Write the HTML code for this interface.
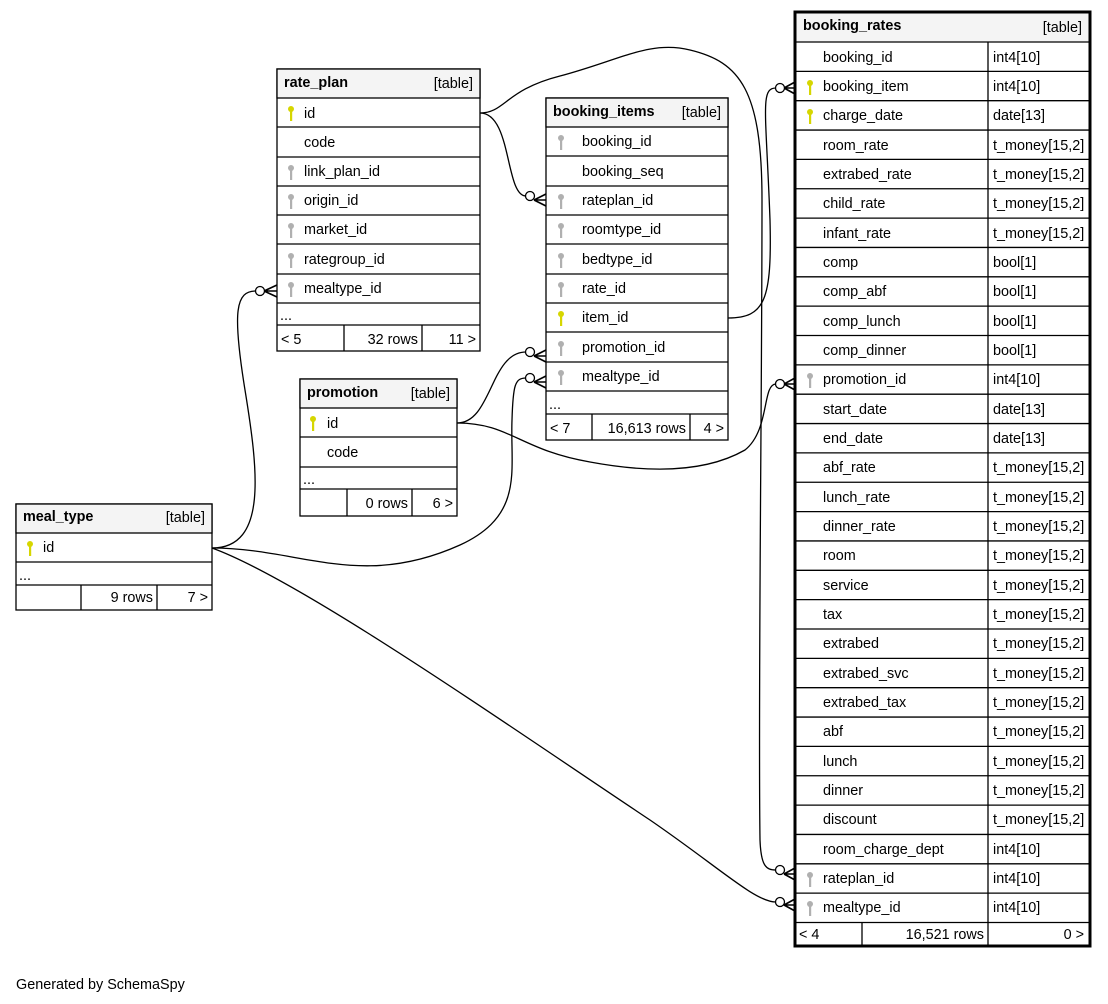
<!DOCTYPE html>
<html><head><meta charset="utf-8"><style>
html,body{margin:0;padding:0;background:#fff}
svg{display:block}
text{font-family:"Liberation Sans",Arial,sans-serif;font-size:14.4px;fill:#000}
.b{font-weight:bold}
.r{text-anchor:end}
.t{fill:#fff;stroke:#000;stroke-width:1.3}
.h{fill:#f4f4f4;stroke:#000;stroke-width:1.3}
.l{stroke:#000;stroke-width:1.3}
.c{fill:none;stroke:#000;stroke-width:1.3}
.f{fill:none;stroke:#000;stroke-width:1.6}
.o{fill:#fff;stroke:#000;stroke-width:1.3}
</style></head><body>
<svg width="1108" height="1004" viewBox="0 0 1108 1004" xmlns="http://www.w3.org/2000/svg">
<defs>
<g id="ky"><circle cx="0" cy="-4" r="3" fill="#d6d600"/><rect x="-1" y="-2" width="2.2" height="10" fill="#d6d600"/></g>
<g id="kg"><circle cx="0" cy="-4" r="3" fill="#b0b0b0"/><rect x="-1" y="-2" width="2.2" height="10" fill="#b0b0b0"/></g>
</defs>

<!-- connectors -->
<path class="c" d="M480,113 C512,113 505,196 526,196"/>
<path class="c" d="M480,113 C505,113 505,90 560,76 C620,60 650,40 690,50 C740,62 762,90 762,200 C762,400 758,700 760,840 C761,866 766,870 776,870"/>
<path class="c" d="M728,318 C765,318 772,300 770,220 C766,110 760,88 776,88"/>
<path class="c" d="M457,423 C492,423 490,352 526,352"/>
<path class="c" d="M457,423 C510,423 520,450 590,462 C660,475 710,470 745,450 C770,430 762,384 776,384"/>
<path class="c" d="M212,548 C268,548 258,470 245,390 C232,310 236,291 256,291"/>
<path class="c" d="M212,548 C300,548 360,590 460,545 C525,515 510,470 512,420 C513,385 515,378 526,378"/>
<path class="c" d="M212,548 C300,580 500,720 650,820 C720,868 755,902 776,902"/>
<!-- crow feet + circles -->
<g class="f">
<path d="M534,200 L546,194 M534,200 L546,200 M534,200 L546,206"/>
<path d="M534,356 L546,350 M534,356 L546,356 M534,356 L546,362"/>
<path d="M534,382 L546,376 M534,382 L546,382 M534,382 L546,388"/>
<path d="M264,291 L277,285 M264,291 L277,291 M264,291 L277,297"/>
<path d="M784,88 L795,82 M784,88 L795,88 M784,88 L795,94"/>
<path d="M784,384 L795,378 M784,384 L795,384 M784,384 L795,390"/>
<path d="M784,874 L795,868 M784,874 L795,874 M784,874 L795,880"/>
<path d="M784,905 L795,899 M784,905 L795,905 M784,905 L795,911"/>
</g>
<circle class="o" cx="530" cy="196" r="4.5"/>
<circle class="o" cx="530" cy="352" r="4.5"/>
<circle class="o" cx="530" cy="378" r="4.5"/>
<circle class="o" cx="260" cy="291" r="4.5"/>
<circle class="o" cx="780" cy="88" r="4.5"/>
<circle class="o" cx="780" cy="384" r="4.5"/>
<circle class="o" cx="780" cy="870" r="4.5"/>
<circle class="o" cx="780" cy="902" r="4.5"/>

<!-- rate_plan -->
<rect class="t" x="277" y="69" width="203" height="282"/>
<rect class="h" x="277" y="69" width="203" height="29"/>
<text class="b" x="284" y="87">rate_plan</text><text class="r" x="473" y="88">[table]</text>
<g class="l">
<line x1="277" y1="127" x2="480" y2="127"/><line x1="277" y1="157" x2="480" y2="157"/>
<line x1="277" y1="186" x2="480" y2="186"/><line x1="277" y1="215" x2="480" y2="215"/>
<line x1="277" y1="244" x2="480" y2="244"/><line x1="277" y1="274" x2="480" y2="274"/>
<line x1="277" y1="303" x2="480" y2="303"/><line x1="277" y1="325" x2="480" y2="325"/>
<line x1="344" y1="325" x2="344" y2="351"/><line x1="422" y1="325" x2="422" y2="351"/>
</g>
<use href="#ky" x="291" y="113"/><text x="304" y="118">id</text>
<text x="304" y="147">code</text>
<use href="#kg" x="291" y="172"/><text x="304" y="176">link_plan_id</text>
<use href="#kg" x="291" y="201"/><text x="304" y="205">origin_id</text>
<use href="#kg" x="291" y="230"/><text x="304" y="234">market_id</text>
<use href="#kg" x="291" y="260"/><text x="304" y="264">rategroup_id</text>
<use href="#kg" x="291" y="289"/><text x="304" y="293">mealtype_id</text>
<text x="280" y="320">...</text>
<text x="281" y="344">&lt; 5</text><text class="r" x="418" y="344">32 rows</text><text class="r" x="476" y="344">11 &gt;</text>

<!-- booking_items -->
<rect class="t" x="546" y="98" width="182" height="342"/>
<rect class="h" x="546" y="98" width="182" height="29"/>
<text class="b" x="553" y="116">booking_items</text><text class="r" x="721" y="117">[table]</text>
<g class="l">
<line x1="546" y1="156" x2="728" y2="156"/><line x1="546" y1="186" x2="728" y2="186"/>
<line x1="546" y1="215" x2="728" y2="215"/><line x1="546" y1="244" x2="728" y2="244"/>
<line x1="546" y1="274" x2="728" y2="274"/><line x1="546" y1="303" x2="728" y2="303"/>
<line x1="546" y1="332" x2="728" y2="332"/><line x1="546" y1="362" x2="728" y2="362"/>
<line x1="546" y1="391" x2="728" y2="391"/><line x1="546" y1="414" x2="728" y2="414"/>
<line x1="592" y1="414" x2="592" y2="440"/><line x1="690" y1="414" x2="690" y2="440"/>
</g>
<use href="#kg" x="561" y="142"/><text x="582" y="146">booking_id</text>
<text x="582" y="176">booking_seq</text>
<use href="#kg" x="561" y="201"/><text x="582" y="205">rateplan_id</text>
<use href="#kg" x="561" y="230"/><text x="582" y="234">roomtype_id</text>
<use href="#kg" x="561" y="260"/><text x="582" y="264">bedtype_id</text>
<use href="#kg" x="561" y="289"/><text x="582" y="293">rate_id</text>
<use href="#ky" x="561" y="318"/><text x="582" y="322">item_id</text>
<use href="#kg" x="561" y="348"/><text x="582" y="352">promotion_id</text>
<use href="#kg" x="561" y="377"/><text x="582" y="381">mealtype_id</text>
<text x="549" y="409">...</text>
<text x="550" y="433">&lt; 7</text><text class="r" x="686" y="433">16,613 rows</text><text class="r" x="724" y="433">4 &gt;</text>

<!-- promotion -->
<rect class="t" x="300" y="379" width="157" height="137"/>
<rect class="h" x="300" y="379" width="157" height="29"/>
<text class="b" x="307" y="397">promotion</text><text class="r" x="450" y="398">[table]</text>
<g class="l">
<line x1="300" y1="437" x2="457" y2="437"/><line x1="300" y1="467" x2="457" y2="467"/>
<line x1="300" y1="489" x2="457" y2="489"/>
<line x1="347" y1="489" x2="347" y2="516"/><line x1="412" y1="489" x2="412" y2="516"/>
</g>
<use href="#ky" x="313" y="423"/><text x="327" y="428">id</text>
<text x="327" y="457">code</text>
<text x="303" y="484">...</text>
<text class="r" x="408" y="508">0 rows</text><text class="r" x="453" y="508">6 &gt;</text>

<!-- meal_type -->
<rect class="t" x="16" y="504" width="196" height="106"/>
<rect class="h" x="16" y="504" width="196" height="29"/>
<text class="b" x="23" y="521">meal_type</text><text class="r" x="205" y="522">[table]</text>
<g class="l">
<line x1="16" y1="562" x2="212" y2="562"/><line x1="16" y1="585" x2="212" y2="585"/>
<line x1="81" y1="585" x2="81" y2="610"/><line x1="157" y1="585" x2="157" y2="610"/>
</g>
<use href="#ky" x="30" y="548"/><text x="43" y="552">id</text>
<text x="19" y="580">...</text>
<text class="r" x="153" y="602">9 rows</text><text class="r" x="208" y="602">7 &gt;</text>

<!-- booking_rates -->
<rect class="t" x="795" y="12" width="295" height="934" style="stroke-width:3"/>
<rect x="796.5" y="13.5" width="292" height="28.5" fill="#f4f4f4"/>
<text class="b" x="803" y="30">booking_rates</text><text class="r" x="1082" y="32">[table]</text>
<g class="l">
<line x1="795" y1="42" x2="1090" y2="42"/><line x1="795" y1="71.35" x2="1090" y2="71.35"/>
<line x1="795" y1="100.7" x2="1090" y2="100.7"/><line x1="795" y1="130.05" x2="1090" y2="130.05"/>
<line x1="795" y1="159.4" x2="1090" y2="159.4"/><line x1="795" y1="188.75" x2="1090" y2="188.75"/>
<line x1="795" y1="218.1" x2="1090" y2="218.1"/><line x1="795" y1="247.45" x2="1090" y2="247.45"/>
<line x1="795" y1="276.8" x2="1090" y2="276.8"/><line x1="795" y1="306.15" x2="1090" y2="306.15"/>
<line x1="795" y1="335.5" x2="1090" y2="335.5"/><line x1="795" y1="364.85" x2="1090" y2="364.85"/>
<line x1="795" y1="394.2" x2="1090" y2="394.2"/><line x1="795" y1="423.55" x2="1090" y2="423.55"/>
<line x1="795" y1="452.9" x2="1090" y2="452.9"/><line x1="795" y1="482.25" x2="1090" y2="482.25"/>
<line x1="795" y1="511.6" x2="1090" y2="511.6"/><line x1="795" y1="540.95" x2="1090" y2="540.95"/>
<line x1="795" y1="570.3" x2="1090" y2="570.3"/><line x1="795" y1="599.65" x2="1090" y2="599.65"/>
<line x1="795" y1="629" x2="1090" y2="629"/><line x1="795" y1="658.35" x2="1090" y2="658.35"/>
<line x1="795" y1="687.7" x2="1090" y2="687.7"/><line x1="795" y1="717.05" x2="1090" y2="717.05"/>
<line x1="795" y1="746.4" x2="1090" y2="746.4"/><line x1="795" y1="775.75" x2="1090" y2="775.75"/>
<line x1="795" y1="805.1" x2="1090" y2="805.1"/><line x1="795" y1="834.45" x2="1090" y2="834.45"/>
<line x1="795" y1="863.8" x2="1090" y2="863.8"/><line x1="795" y1="893.15" x2="1090" y2="893.15"/>
<line x1="795" y1="922.5" x2="1090" y2="922.5"/>
<line x1="988" y1="42" x2="988" y2="946"/><line x1="862" y1="922.5" x2="862" y2="946"/>
</g>
<g>
<text x="823" y="62">booking_id</text><text x="993" y="62">int4[10]</text>
<use href="#ky" x="810" y="87"/><text x="823" y="91">booking_item</text><text x="993" y="91">int4[10]</text>
<use href="#ky" x="810" y="116"/><text x="823" y="120">charge_date</text><text x="993" y="120">date[13]</text>
<text x="823" y="150">room_rate</text><text x="993" y="150">t_money[15,2]</text>
<text x="823" y="179">extrabed_rate</text><text x="993" y="179">t_money[15,2]</text>
<text x="823" y="208">child_rate</text><text x="993" y="208">t_money[15,2]</text>
<text x="823" y="238">infant_rate</text><text x="993" y="238">t_money[15,2]</text>
<text x="823" y="267">comp</text><text x="993" y="267">bool[1]</text>
<text x="823" y="296">comp_abf</text><text x="993" y="296">bool[1]</text>
<text x="823" y="326">comp_lunch</text><text x="993" y="326">bool[1]</text>
<text x="823" y="355">comp_dinner</text><text x="993" y="355">bool[1]</text>
<use href="#kg" x="810" y="380"/><text x="823" y="384">promotion_id</text><text x="993" y="384">int4[10]</text>
<text x="823" y="414">start_date</text><text x="993" y="414">date[13]</text>
<text x="823" y="443">end_date</text><text x="993" y="443">date[13]</text>
<text x="823" y="472">abf_rate</text><text x="993" y="472">t_money[15,2]</text>
<text x="823" y="502">lunch_rate</text><text x="993" y="502">t_money[15,2]</text>
<text x="823" y="531">dinner_rate</text><text x="993" y="531">t_money[15,2]</text>
<text x="823" y="560">room</text><text x="993" y="560">t_money[15,2]</text>
<text x="823" y="590">service</text><text x="993" y="590">t_money[15,2]</text>
<text x="823" y="619">tax</text><text x="993" y="619">t_money[15,2]</text>
<text x="823" y="648">extrabed</text><text x="993" y="648">t_money[15,2]</text>
<text x="823" y="678">extrabed_svc</text><text x="993" y="678">t_money[15,2]</text>
<text x="823" y="707">extrabed_tax</text><text x="993" y="707">t_money[15,2]</text>
<text x="823" y="736">abf</text><text x="993" y="736">t_money[15,2]</text>
<text x="823" y="766">lunch</text><text x="993" y="766">t_money[15,2]</text>
<text x="823" y="795">dinner</text><text x="993" y="795">t_money[15,2]</text>
<text x="823" y="824">discount</text><text x="993" y="824">t_money[15,2]</text>
<text x="823" y="854">room_charge_dept</text><text x="993" y="854">int4[10]</text>
<use href="#kg" x="810" y="879"/><text x="823" y="883">rateplan_id</text><text x="993" y="883">int4[10]</text>
<use href="#kg" x="810" y="908"/><text x="823" y="912">mealtype_id</text><text x="993" y="912">int4[10]</text>
<text x="799" y="939">&lt; 4</text><text class="r" x="984" y="939">16,521 rows</text><text class="r" x="1084" y="939">0 &gt;</text>
</g>

<text x="16" y="989">Generated by SchemaSpy</text>
</svg>
</body></html>
